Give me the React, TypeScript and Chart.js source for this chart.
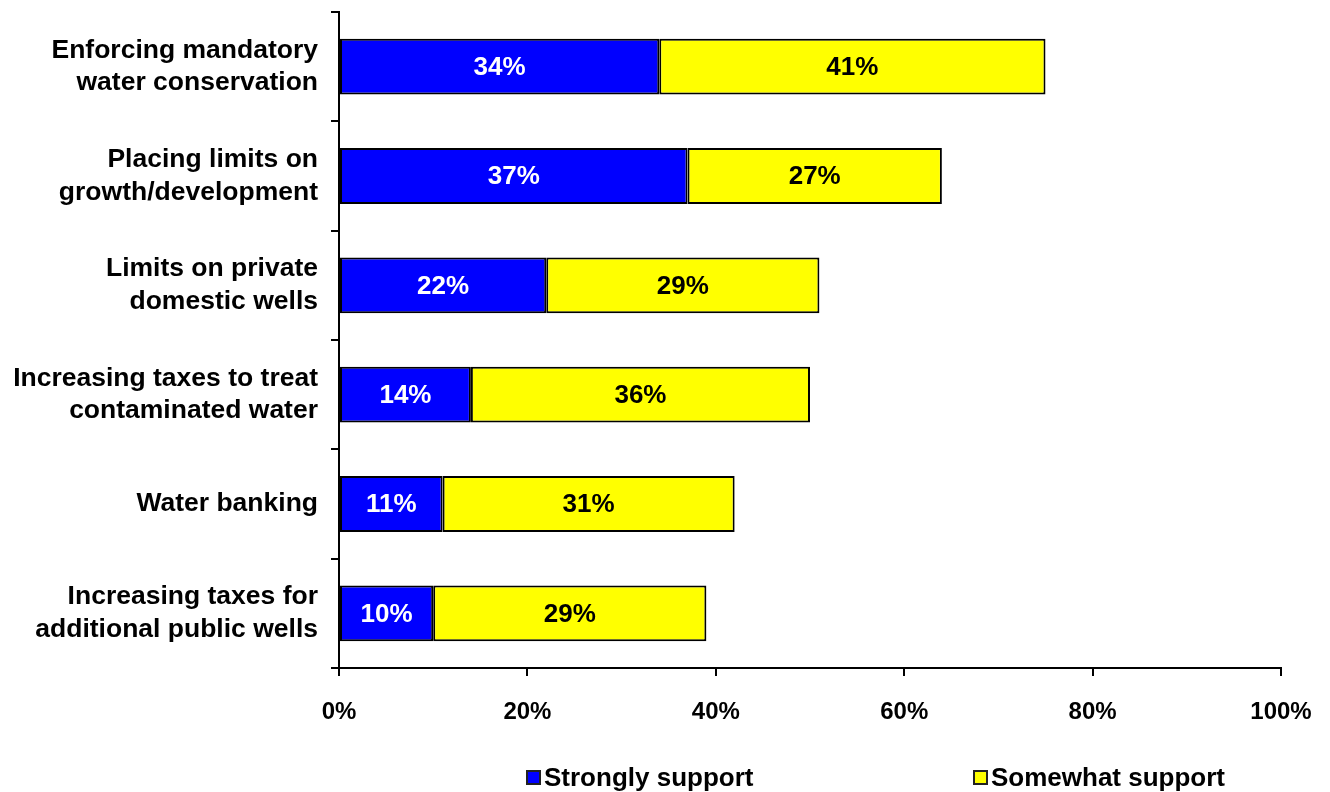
import React, { useEffect, useRef } from "react";
import { Chart, registerables } from "chart.js";

Chart.register(...registerables);

const categories: string[][] = [
  ["Enforcing mandatory", "water conservation"],
  ["Placing limits on", "growth/development"],
  ["Limits on private", "domestic wells"],
  ["Increasing taxes to treat", "contaminated water"],
  ["Water banking"],
  ["Increasing taxes for", "additional public wells"],
];
const stronglySupport = [34, 37, 22, 14, 11, 10];
const somewhatSupport = [41, 27, 29, 36, 31, 29];
const seriesNames = ["Strongly support", "Somewhat support"];
const seriesColors = ["#0000ff", "#ffff00"];
const xTicks = [0, 20, 40, 60, 80, 100];

const FONT = "'Liberation Sans', Arial, sans-serif";

const barLabels = {
  id: "barLabels",
  afterDatasetsDraw(chart: any) {
    const ctx = chart.ctx;
    ctx.save();
    ctx.font = `bold 26px ${FONT}`;
    ctx.textAlign = "center";
    ctx.textBaseline = "middle";
    chart.data.datasets.forEach((ds: any, di: number) => {
      const meta = chart.getDatasetMeta(di);
      meta.data.forEach((el: any, i: number) => {
        const x = (el.x + el.base) / 2;
        ctx.fillStyle = di === 0 ? "#ffffff" : "#000000";
        ctx.fillText(`${ds.data[i]}%`, x, el.y + 1);
      });
    });
    ctx.restore();
  },
};

const customLegend = {
  id: "customLegend",
  afterDraw(chart: any) {
    const ctx = chart.ctx;
    const starts = [527, 974];
    const yMid = 778;
    ctx.save();
    ctx.font = `bold 26px ${FONT}`;
    ctx.textAlign = "left";
    ctx.textBaseline = "middle";
    seriesNames.forEach((name, i) => {
      const x = starts[i];
      ctx.fillStyle = seriesColors[i];
      ctx.fillRect(x, yMid - 7, 13, 13);
      ctx.strokeStyle = "#222";
      ctx.lineWidth = 2;
      ctx.strokeRect(x, yMid - 7, 13, 13);
      ctx.fillStyle = "#000";
      ctx.fillText(name, x + 17, yMid + 1);
    });
    ctx.restore();
  },
};

export default function App() {
  const ref = useRef<HTMLCanvasElement | null>(null);
  useEffect(() => {
    if (!ref.current) return;
    const chart = new Chart(ref.current, {
      type: "bar",
      data: {
        labels: categories,
        datasets: [
          {
            label: seriesNames[0],
            data: stronglySupport,
            backgroundColor: seriesColors[0],
            borderColor: "#000000",
            borderWidth: 2,
            borderSkipped: false,
            barPercentage: 0.51,
            categoryPercentage: 1,
          },
          {
            label: seriesNames[1],
            data: somewhatSupport,
            backgroundColor: seriesColors[1],
            borderColor: "#000000",
            borderWidth: 2,
            borderSkipped: false,
            barPercentage: 0.51,
            categoryPercentage: 1,
          },
        ],
      },
      options: {
        indexAxis: "y",
        animation: false,
        responsive: false,
        devicePixelRatio: 1,
        layout: { padding: { left: 0, right: 49, top: 12, bottom: 0 } },
        plugins: {
          legend: { display: false },
          tooltip: { enabled: false },
        },
        scales: {
          x: {
            stacked: true,
            min: 0,
            max: 100,
            afterBuildTicks(scale: any) {
              scale.ticks = xTicks.map((v) => ({ value: v }));
            },
            afterFit(scale: any) {
              scale.height = 124;
              scale.paddingLeft = 0;
              scale.paddingRight = 0;
            },
            ticks: {
              callback: (v: any) => `${v}%`,
              color: "#000",
              font: { family: FONT, size: 24, weight: "bold" },
              padding: 22,
              maxRotation: 0,
            },
            grid: {
              drawOnChartArea: false,
              drawTicks: true,
              tickLength: 8,
              color: "#000",
              lineWidth: 2,
            },
            border: { color: "#000", width: 2 },
          },
          y: {
            stacked: true,
            afterFit(scale: any) {
              scale.width = 339;
              scale.paddingTop = 0;
              scale.paddingBottom = 0;
            },
            ticks: {
              color: "#000",
              font: { family: FONT, size: 26.5, weight: "bold", lineHeight: 1.24 },
              padding: 13,
            },
            grid: {
              drawOnChartArea: false,
              drawTicks: true,
              tickLength: 8,
              color: "#000",
              lineWidth: 2,
              offset: true,
            },
            border: { color: "#000", width: 2 },
          },
        },
      },
      plugins: [barLabels, customLegend],
    });
    return () => chart.destroy();
  }, []);
  return (
    <div style={{ position: "absolute", left: 0, top: 0, width: 1330, height: 792, background: "#fff" }}>
      <canvas ref={ref} width={1330} height={792} style={{ display: "block" }} />
    </div>
  );
}
